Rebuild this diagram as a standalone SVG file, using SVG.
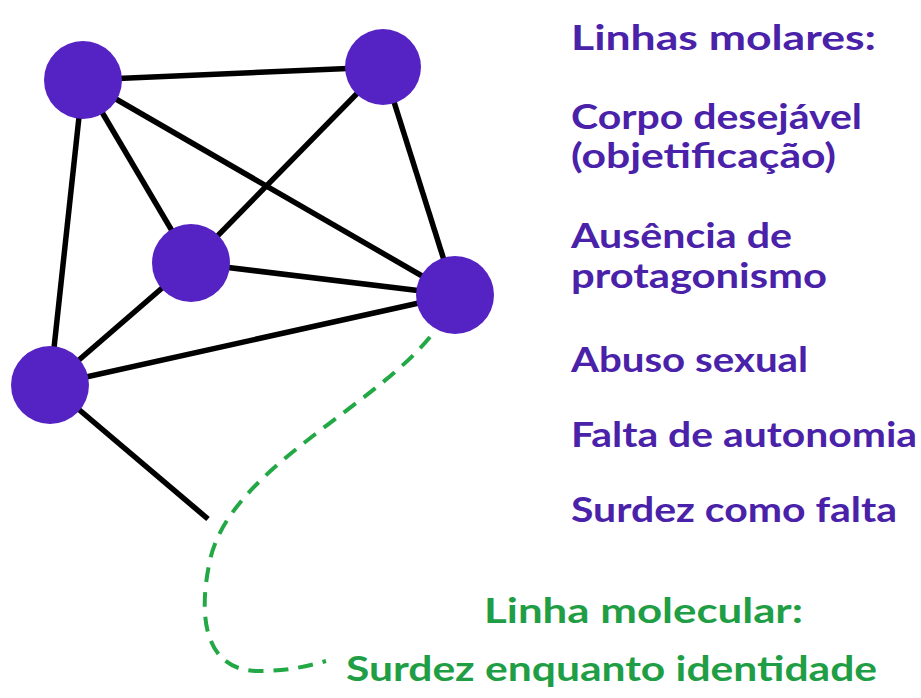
<svg xmlns="http://www.w3.org/2000/svg" width="921" height="698" viewBox="0 0 921 698">
  <style>
    .edge { stroke: #000; stroke-width: 5.5; stroke-linecap: butt; fill: none; }
    .mol { stroke: #22a845; stroke-width: 4; stroke-dasharray: 15 10; fill: none; }
    .node { fill: #5523c4; }
    .t { font-family: Lato, "Open Sans", "Liberation Sans", sans-serif; font-weight: 700; font-size: 35px; }
    .p { fill: #4a22aa; }
    .g { fill: #1f9e45; }
  </style>
  <rect width="921" height="698" fill="#ffffff"/>
  <g id="connectors">
    <line class="edge" x1="83" y1="80" x2="383" y2="67"/>
    <line class="edge" x1="83" y1="80" x2="191" y2="263"/>
    <line class="edge" x1="83" y1="80" x2="455" y2="295"/>
    <line class="edge" x1="83" y1="80" x2="50" y2="385"/>
    <line class="edge" x1="383" y1="67" x2="191" y2="263"/>
    <line class="edge" x1="383" y1="67" x2="455" y2="295"/>
    <line class="edge" x1="191" y1="263" x2="455" y2="295"/>
    <line class="edge" x1="191" y1="263" x2="50" y2="385"/>
    <line class="edge" x1="455" y1="295" x2="50" y2="385"/>
    <line class="edge" x1="50" y1="385" x2="208" y2="519"/>
    <path class="mol" d="M430,337 C370,410 230,470 210,560 C195,630 212,672 260,671 C285,671 305,667 326,661"/>
  </g>
  <g id="n1"><circle class="node" cx="83" cy="80" r="39"/></g>
  <g id="n2"><circle class="node" cx="383" cy="67" r="38"/></g>
  <g id="n3"><circle class="node" cx="191" cy="263" r="39"/></g>
  <g id="n4"><circle class="node" cx="455" cy="295" r="39"/></g>
  <g id="n5"><circle class="node" cx="50" cy="385" r="39"/></g>
  <g id="molar-labels" class="t p">
    <text x="571" y="50" textLength="305" lengthAdjust="spacingAndGlyphs">Linhas molares:</text>
    <text x="571" y="129" textLength="291" lengthAdjust="spacingAndGlyphs">Corpo desejável</text>
    <text x="571" y="168" textLength="265" lengthAdjust="spacingAndGlyphs">(objetificação)</text>
    <text x="571" y="248" textLength="221" lengthAdjust="spacingAndGlyphs">Ausência de</text>
    <text x="571" y="288" textLength="256" lengthAdjust="spacingAndGlyphs">protagonismo</text>
    <text x="571" y="372" textLength="237" lengthAdjust="spacingAndGlyphs">Abuso sexual</text>
    <text x="571" y="447" textLength="346" lengthAdjust="spacingAndGlyphs">Falta de autonomia</text>
    <text x="571" y="522" textLength="326" lengthAdjust="spacingAndGlyphs">Surdez como falta</text>
  </g>
  <g id="molecular-labels" class="t g">
    <text x="484" y="623" textLength="319" lengthAdjust="spacingAndGlyphs">Linha molecular:</text>
    <text x="346" y="681" textLength="531" lengthAdjust="spacingAndGlyphs">Surdez enquanto identidade</text>
  </g>
</svg>
